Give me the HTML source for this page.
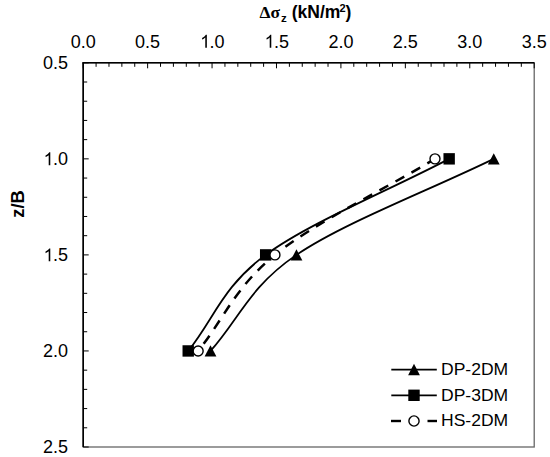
<!DOCTYPE html>
<html><head><meta charset="utf-8"><style>
html,body{margin:0;padding:0;background:#fff;}
body{width:550px;height:457px;overflow:hidden;}
svg{display:block;}
text{font-family:"Liberation Sans",sans-serif;fill:#000;}
.l{font-size:18px;}
.t{font-size:17.5px;font-weight:bold;}
.g{font-size:17px;}
</style></head><body>
<svg width="550" height="457" viewBox="0 0 550 457">
<rect x="83.20" y="62.80" width="451.01" height="384.20" fill="none" stroke="#666" stroke-width="1.3"/>
<line x1="83.20" y1="62.80" x2="83.20" y2="68.30" stroke="#000" stroke-width="1.0"/>
<line x1="96.09" y1="62.80" x2="96.09" y2="66.80" stroke="#000" stroke-width="1.0"/>
<line x1="108.97" y1="62.80" x2="108.97" y2="66.80" stroke="#000" stroke-width="1.0"/>
<line x1="121.86" y1="62.80" x2="121.86" y2="66.80" stroke="#000" stroke-width="1.0"/>
<line x1="134.74" y1="62.80" x2="134.74" y2="66.80" stroke="#000" stroke-width="1.0"/>
<line x1="147.63" y1="62.80" x2="147.63" y2="68.30" stroke="#000" stroke-width="1.0"/>
<line x1="160.52" y1="62.80" x2="160.52" y2="66.80" stroke="#000" stroke-width="1.0"/>
<line x1="173.40" y1="62.80" x2="173.40" y2="66.80" stroke="#000" stroke-width="1.0"/>
<line x1="186.29" y1="62.80" x2="186.29" y2="66.80" stroke="#000" stroke-width="1.0"/>
<line x1="199.17" y1="62.80" x2="199.17" y2="66.80" stroke="#000" stroke-width="1.0"/>
<line x1="212.06" y1="62.80" x2="212.06" y2="68.30" stroke="#000" stroke-width="1.0"/>
<line x1="224.95" y1="62.80" x2="224.95" y2="66.80" stroke="#000" stroke-width="1.0"/>
<line x1="237.83" y1="62.80" x2="237.83" y2="66.80" stroke="#000" stroke-width="1.0"/>
<line x1="250.72" y1="62.80" x2="250.72" y2="66.80" stroke="#000" stroke-width="1.0"/>
<line x1="263.60" y1="62.80" x2="263.60" y2="66.80" stroke="#000" stroke-width="1.0"/>
<line x1="276.49" y1="62.80" x2="276.49" y2="68.30" stroke="#000" stroke-width="1.0"/>
<line x1="289.38" y1="62.80" x2="289.38" y2="66.80" stroke="#000" stroke-width="1.0"/>
<line x1="302.26" y1="62.80" x2="302.26" y2="66.80" stroke="#000" stroke-width="1.0"/>
<line x1="315.15" y1="62.80" x2="315.15" y2="66.80" stroke="#000" stroke-width="1.0"/>
<line x1="328.03" y1="62.80" x2="328.03" y2="66.80" stroke="#000" stroke-width="1.0"/>
<line x1="340.92" y1="62.80" x2="340.92" y2="68.30" stroke="#000" stroke-width="1.0"/>
<line x1="353.81" y1="62.80" x2="353.81" y2="66.80" stroke="#000" stroke-width="1.0"/>
<line x1="366.69" y1="62.80" x2="366.69" y2="66.80" stroke="#000" stroke-width="1.0"/>
<line x1="379.58" y1="62.80" x2="379.58" y2="66.80" stroke="#000" stroke-width="1.0"/>
<line x1="392.46" y1="62.80" x2="392.46" y2="66.80" stroke="#000" stroke-width="1.0"/>
<line x1="405.35" y1="62.80" x2="405.35" y2="68.30" stroke="#000" stroke-width="1.0"/>
<line x1="418.24" y1="62.80" x2="418.24" y2="66.80" stroke="#000" stroke-width="1.0"/>
<line x1="431.12" y1="62.80" x2="431.12" y2="66.80" stroke="#000" stroke-width="1.0"/>
<line x1="444.01" y1="62.80" x2="444.01" y2="66.80" stroke="#000" stroke-width="1.0"/>
<line x1="456.89" y1="62.80" x2="456.89" y2="66.80" stroke="#000" stroke-width="1.0"/>
<line x1="469.78" y1="62.80" x2="469.78" y2="68.30" stroke="#000" stroke-width="1.0"/>
<line x1="482.67" y1="62.80" x2="482.67" y2="66.80" stroke="#000" stroke-width="1.0"/>
<line x1="495.55" y1="62.80" x2="495.55" y2="66.80" stroke="#000" stroke-width="1.0"/>
<line x1="508.44" y1="62.80" x2="508.44" y2="66.80" stroke="#000" stroke-width="1.0"/>
<line x1="521.32" y1="62.80" x2="521.32" y2="66.80" stroke="#000" stroke-width="1.0"/>
<line x1="534.21" y1="62.80" x2="534.21" y2="68.30" stroke="#000" stroke-width="1.0"/>
<line x1="83.20" y1="62.80" x2="88.70" y2="62.80" stroke="#000" stroke-width="1.0"/>
<line x1="83.20" y1="82.01" x2="87.20" y2="82.01" stroke="#000" stroke-width="1.0"/>
<line x1="83.20" y1="101.22" x2="87.20" y2="101.22" stroke="#000" stroke-width="1.0"/>
<line x1="83.20" y1="120.43" x2="87.20" y2="120.43" stroke="#000" stroke-width="1.0"/>
<line x1="83.20" y1="139.64" x2="87.20" y2="139.64" stroke="#000" stroke-width="1.0"/>
<line x1="83.20" y1="158.85" x2="88.70" y2="158.85" stroke="#000" stroke-width="1.0"/>
<line x1="83.20" y1="178.06" x2="87.20" y2="178.06" stroke="#000" stroke-width="1.0"/>
<line x1="83.20" y1="197.27" x2="87.20" y2="197.27" stroke="#000" stroke-width="1.0"/>
<line x1="83.20" y1="216.48" x2="87.20" y2="216.48" stroke="#000" stroke-width="1.0"/>
<line x1="83.20" y1="235.69" x2="87.20" y2="235.69" stroke="#000" stroke-width="1.0"/>
<line x1="83.20" y1="254.90" x2="88.70" y2="254.90" stroke="#000" stroke-width="1.0"/>
<line x1="83.20" y1="274.11" x2="87.20" y2="274.11" stroke="#000" stroke-width="1.0"/>
<line x1="83.20" y1="293.32" x2="87.20" y2="293.32" stroke="#000" stroke-width="1.0"/>
<line x1="83.20" y1="312.53" x2="87.20" y2="312.53" stroke="#000" stroke-width="1.0"/>
<line x1="83.20" y1="331.74" x2="87.20" y2="331.74" stroke="#000" stroke-width="1.0"/>
<line x1="83.20" y1="350.95" x2="88.70" y2="350.95" stroke="#000" stroke-width="1.0"/>
<line x1="83.20" y1="370.16" x2="87.20" y2="370.16" stroke="#000" stroke-width="1.0"/>
<line x1="83.20" y1="389.37" x2="87.20" y2="389.37" stroke="#000" stroke-width="1.0"/>
<line x1="83.20" y1="408.58" x2="87.20" y2="408.58" stroke="#000" stroke-width="1.0"/>
<line x1="83.20" y1="427.79" x2="87.20" y2="427.79" stroke="#000" stroke-width="1.0"/>
<line x1="83.20" y1="447.00" x2="88.70" y2="447.00" stroke="#000" stroke-width="1.0"/>
<line x1="82.40" y1="62.80" x2="534.21" y2="62.80" stroke="#000" stroke-width="1.6"/>
<line x1="83.20" y1="62.80" x2="83.20" y2="447.00" stroke="#000" stroke-width="1.6"/>
<text x="70.69" y="47.70" class="l">0.0</text>
<text x="135.12" y="47.70" class="l">0.5</text>
<path d="M763,0L583,0L583,1147Q518,1085 412.5,1023Q307,961 223,930L223,1104Q374,1175 486.5,1277Q599,1379 651,1466L763,1466Z" transform="translate(200.15,47.70) scale(0.008789,-0.008789)" fill="#000"/><text x="209.56" y="47.70" class="l">.0</text>
<path d="M763,0L583,0L583,1147Q518,1085 412.5,1023Q307,961 223,930L223,1104Q374,1175 486.5,1277Q599,1379 651,1466L763,1466Z" transform="translate(264.58,47.70) scale(0.008789,-0.008789)" fill="#000"/><text x="273.99" y="47.70" class="l">.5</text>
<text x="328.41" y="47.70" class="l">2.0</text>
<text x="392.84" y="47.70" class="l">2.5</text>
<text x="457.27" y="47.70" class="l">3.0</text>
<text x="521.70" y="47.70" class="l">3.5</text>
<text x="42.98" y="69.20" class="l">0.5</text>
<path d="M763,0L583,0L583,1147Q518,1085 412.5,1023Q307,961 223,930L223,1104Q374,1175 486.5,1277Q599,1379 651,1466L763,1466Z" transform="translate(43.58,165.25) scale(0.008789,-0.008789)" fill="#000"/><text x="52.99" y="165.25" class="l">.0</text>
<path d="M763,0L583,0L583,1147Q518,1085 412.5,1023Q307,961 223,930L223,1104Q374,1175 486.5,1277Q599,1379 651,1466L763,1466Z" transform="translate(43.58,261.30) scale(0.008789,-0.008789)" fill="#000"/><text x="52.99" y="261.30" class="l">.5</text>
<text x="42.98" y="357.35" class="l">2.0</text>
<text x="42.98" y="453.40" class="l">2.5</text>
<text y="17.5" class="t"><tspan x="259.5" font-family="Liberation Serif" font-weight="bold" font-size="17.5">Δσ</tspan><tspan x="281" y="21.7" font-size="11.5">z</tspan><tspan x="291.8" y="17.5">(kN/m</tspan><tspan x="339.5" y="11.9" font-size="11">2</tspan><tspan x="345.5" y="17.5">)</tspan></text>
<text transform="translate(24.2,204) rotate(-90)" text-anchor="middle" class="t" font-size="16.5" textLength="27.5" lengthAdjust="spacingAndGlyphs">z/B</text>
<path d="M493.75,158.85 C427.99,190.87 343.67,222.88 296.46,254.90 C249.26,286.92 239.16,318.93 210.51,350.95" fill="none" stroke="#000" stroke-width="1.75"/>
<path d="M449.16,158.85 C388.00,190.87 309.16,222.88 265.67,254.90 C222.18,286.92 214.04,318.93 188.22,350.95" fill="none" stroke="#000" stroke-width="1.75"/>
<path d="M434.99,158.85 C381.64,190.87 314.42,222.88 274.94,254.90 C235.47,286.92 223.74,318.93 198.14,350.95" fill="none" stroke="#000" stroke-width="2.5" stroke-dasharray="10,8.27" stroke-dashoffset="1"/>
<path d="M493.75,153.20 L499.65,164.50 L487.85,164.50 Z" fill="#000"/>
<path d="M296.46,249.25 L302.36,260.55 L290.56,260.55 Z" fill="#000"/>
<path d="M210.51,345.30 L216.41,356.60 L204.61,356.60 Z" fill="#000"/>
<rect x="443.46" y="153.15" width="11.4" height="11.4" fill="#000"/>
<rect x="259.97" y="249.20" width="11.4" height="11.4" fill="#000"/>
<rect x="182.52" y="345.25" width="11.4" height="11.4" fill="#000"/>
<circle cx="434.99" cy="158.85" r="5.0" fill="#fff" stroke="#000" stroke-width="1.4"/>
<circle cx="274.94" cy="254.90" r="5.0" fill="#fff" stroke="#000" stroke-width="1.4"/>
<circle cx="198.14" cy="350.95" r="5.0" fill="#fff" stroke="#000" stroke-width="1.4"/>
<line x1="391.3" y1="369.5" x2="436.8" y2="369.5" stroke="#000" stroke-width="1.75"/>
<path d="M414.00,363.85 L419.90,375.15 L408.10,375.15 Z" fill="#000"/>
<line x1="391.3" y1="395.3" x2="436.8" y2="395.3" stroke="#000" stroke-width="1.75"/>
<rect x="408.30" y="389.60" width="11.4" height="11.4" fill="#000"/>
<line x1="391" y1="421.0" x2="401" y2="421.0" stroke="#000" stroke-width="2.4"/>
<line x1="427.5" y1="421.0" x2="437" y2="421.0" stroke="#000" stroke-width="2.4"/>
<circle cx="414.00" cy="421.00" r="5.1" fill="#fff" stroke="#000" stroke-width="1.4"/>
<text x="441" y="374.80" class="g" textLength="67.2" lengthAdjust="spacingAndGlyphs">DP-2DM</text>
<text x="441" y="400.60" class="g" textLength="67.2" lengthAdjust="spacingAndGlyphs">DP-3DM</text>
<text x="441" y="426.30" class="g" textLength="67.2" lengthAdjust="spacingAndGlyphs">HS-2DM</text>
</svg>
</body></html>
